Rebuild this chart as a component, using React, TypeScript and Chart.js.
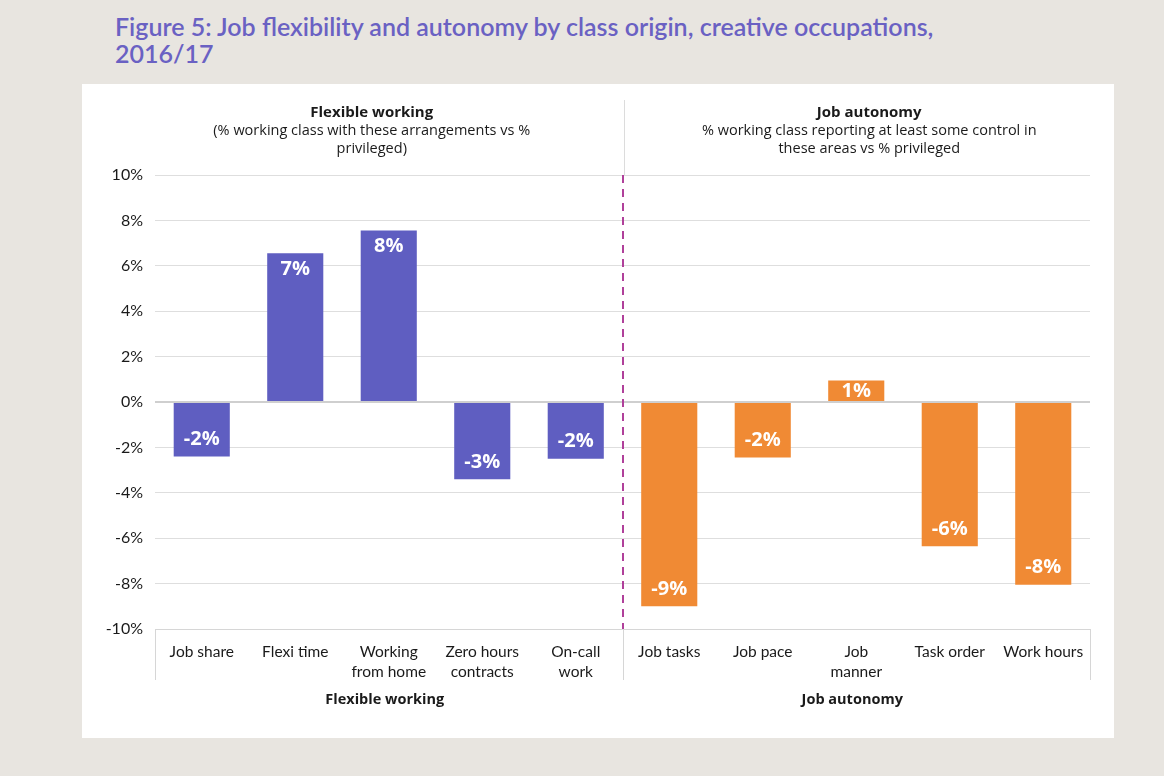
import React, { useEffect, useRef } from "react";
import { Chart, registerables } from "chart.js";

Chart.register(...registerables);

// ---- Data ----
const categories: string[][] = [
  ["Job share"],
  ["Flexi time"],
  ["Working", "from home"],
  ["Zero hours", "contracts"],
  ["On-call", "work"],
  ["Job tasks"],
  ["Job pace"],
  ["Job", "manner"],
  ["Task order"],
  ["Work hours"],
];
const values: number[] = [-2.4, 6.55, 7.55, -3.4, -2.5, -9.0, -2.45, 0.95, -6.35, -8.05];
const valueLabels: string[] = ["-2%", "7%", "8%", "-3%", "-2%", "-9%", "-2%", "1%", "-6%", "-8%"];
const groupNames: string[] = ["Flexible working", "Job autonomy"];
const groupSizes: number[] = [5, 5];
const groupHeaders: string[][] = [
  ["Flexible working", "(% working class with these arrangements vs %", "privileged)"],
  ["Job autonomy", "% working class reporting at least some control in", "these areas vs % privileged"],
];
const yMin = -10;
const yMax = 10;
const yStep = 2;

const groupColors = ["#5f5ec1", "#f08a34"];
const FONT = "Lato, 'Open Sans', sans-serif";
const FONT2 = "'Open Sans', Lato, sans-serif";

const barColors = (() => {
  const out: string[] = [];
  groupSizes.forEach((n, g) => {
    for (let i = 0; i < n; i++) out.push(groupColors[g]);
  });
  return out;
})();

const decorPlugin = {
  id: "decor",
  afterDatasetsDraw(chart: any) {
    const { ctx, chartArea } = chart;
    const n = categories.length;
    const step = (chartArea.right - chartArea.left) / n;
    const bounds: number[] = [chartArea.left];
    let acc = 0;
    groupSizes.forEach((s) => {
      acc += s;
      bounds.push(chartArea.left + acc * step);
    });

    ctx.save();
    // bottom axis line + group separators
    ctx.strokeStyle = "#d6d6d6";
    ctx.lineWidth = 1;
    ctx.beginPath();
    ctx.moveTo(chartArea.left, chartArea.bottom + 0.5);
    ctx.lineTo(chartArea.right, chartArea.bottom + 0.5);
    ctx.stroke();
    bounds.forEach((bx) => {
      const px = Math.round(bx) + 0.5;
      ctx.beginPath();
      ctx.moveTo(px, chartArea.bottom);
      ctx.lineTo(px, chartArea.bottom + 51);
      ctx.stroke();
    });

    // header separator line
    const mid = Math.round(bounds[1]) + 1.5;
    ctx.strokeStyle = "#dcdcdc";
    ctx.beginPath();
    ctx.moveTo(mid, chartArea.top - 75);
    ctx.lineTo(mid, chartArea.top);
    ctx.stroke();

    // dashed line between groups
    ctx.strokeStyle = "#b0409a";
    ctx.lineWidth = 2;
    ctx.setLineDash([8, 6]);
    ctx.beginPath();
    ctx.moveTo(Math.round(bounds[1]), chartArea.top);
    ctx.lineTo(Math.round(bounds[1]), chartArea.bottom);
    ctx.stroke();
    ctx.setLineDash([]);

    // group labels
    ctx.fillStyle = "#1a1a1a";
    ctx.textAlign = "center";
    ctx.textBaseline = "middle";
    ctx.font = `bold 14.5px ${FONT2}`;
    groupNames.forEach((name, g) => {
      const cx = (bounds[g] + bounds[g + 1]) / 2;
      ctx.fillText(name, cx - 4, chartArea.bottom + 71);
    });

    // headers
    const headerShift = [-17, 13];
    groupHeaders.forEach((lines, g) => {
      const cx = (bounds[g] + bounds[g + 1]) / 2 + headerShift[g];
      lines.forEach((line, i) => {
        ctx.font = i === 0 ? `bold 15px ${FONT2}` : `14.5px ${FONT2}`;
        ctx.fillText(line, cx, chartArea.top - 62 + i * 18);
      });
    });

    // value labels
    const meta = chart.getDatasetMeta(0);
    ctx.fillStyle = "#ffffff";
    ctx.font = `bold 20px ${FONT2}`;
    meta.data.forEach((bar: any, i: number) => {
      const v = values[i];
      const base = bar.base;
      const h = Math.abs(base - bar.y);
      let y: number;
      if (h < 32) y = (bar.y + base) / 2;
      else if (v >= 0) y = bar.y + 15;
      else y = bar.y - 18;
      ctx.fillText(valueLabels[i], bar.x, y + 1);
    });
    ctx.restore();
  },
};

export default function App() {
  const ref = useRef<HTMLCanvasElement | null>(null);

  useEffect(() => {
    document.body.style.margin = "0";
    document.body.style.background = "#e8e5e0";
    if (!ref.current) return;
    const chart = new Chart(ref.current, {
      type: "bar",
      data: {
        labels: categories,
        datasets: [
          {
            data: values,
            backgroundColor: barColors,
            borderWidth: 0,
            barPercentage: 0.6,
            categoryPercentage: 1,
          },
        ],
      },
      options: {
        animation: false,
        responsive: false,
        maintainAspectRatio: false,
        layout: { padding: { top: 91, right: 24, left: 0, bottom: 0 } },
        plugins: {
          legend: { display: false },
          tooltip: { enabled: false },
        },
        scales: {
          x: {
            grid: { display: false },
            border: { display: false },
            ticks: {
              color: "#1a1a1a",
              font: { family: FONT, size: 15.5, lineHeight: 1.3 },
              padding: 5,
              maxRotation: 0,
              autoSkip: false,
            },
            afterFit: (s: any) => {
              s.height = 109;
            },
          },
          y: {
            min: yMin,
            max: yMax,
            grid: {
              color: (c: any) => (c.tick && c.tick.value === 0 ? "#cfcfcf" : "#dedede"),
              lineWidth: (c: any) => (c.tick && c.tick.value === 0 ? 2 : 1),
              drawTicks: false,
            },
            border: { display: false },
            ticks: {
              stepSize: yStep,
              color: "#1a1a1a",
              font: { family: FONT, size: 16 },
              padding: 12,
              callback: (v: any) => `${v}%`,
            },
            afterFit: (s: any) => {
              s.width = 73;
            },
          },
        },
      },
      plugins: [decorPlugin],
    });
    return () => chart.destroy();
  }, []);

  return (
    <div style={{ position: "absolute", left: 0, top: 0, width: 1164, height: 776, background: "#e8e5e0" }}>
      <div
        style={{
          position: "absolute",
          left: 115,
          top: 13,
          fontFamily: FONT,
          fontWeight: 600,
          fontSize: 25,
          lineHeight: "27px",
          color: "#6a61c3",
          whiteSpace: "nowrap",
        }}
      >
        Figure 5: Job flexibility and autonomy by class origin, creative occupations,
        <br />
        2016/17
      </div>
      <div style={{ position: "absolute", left: 82, top: 84, width: 1032, height: 654, background: "#ffffff" }}>
        <canvas ref={ref} width={1032} height={654} style={{ display: "block" }} />
      </div>
    </div>
  );
}
